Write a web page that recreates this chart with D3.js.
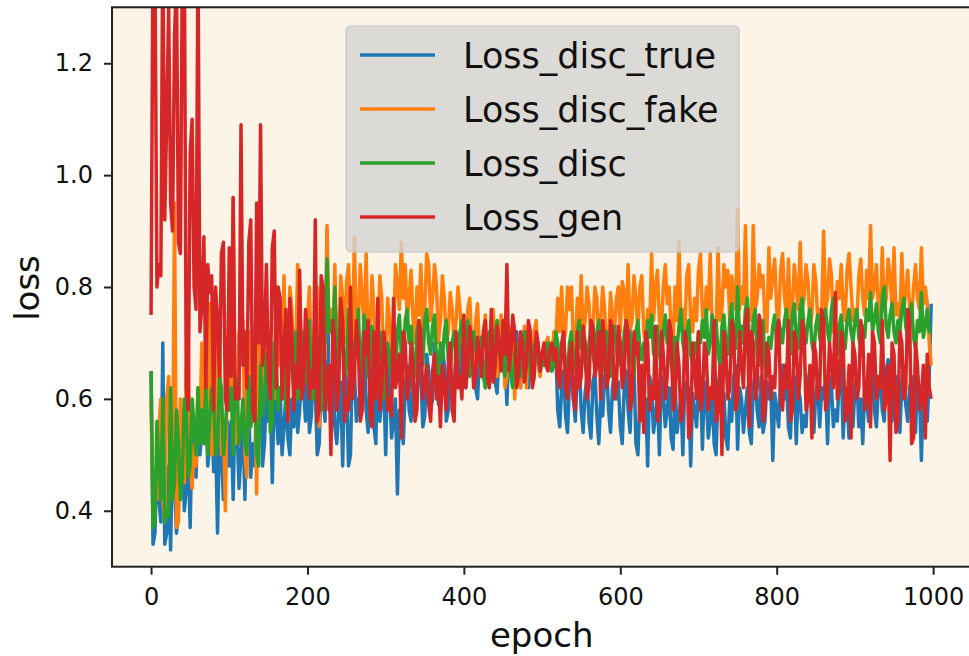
<!DOCTYPE html>
<html>

<head>
    <meta charset="utf-8">
    <style>
        body {
            margin: 0;
            background: #ffffff;
            font-family: 'DejaVu Sans', sans-serif;
        }

        svg {
            display: block;
        }

        .tick text {
            font-size: 24px;
            fill: #111;
        }

        .tick line {
            stroke: #222;
            stroke-width: 2;
        }

        .domain {
            display: none;
        }
    </style>
</head>

<body>
    <svg width="969" height="656"></svg>
</body>

<script src="https://d3js.org/d3.v7.min.js"></script>

<script>
    // losses every 2.5 epochs (0 ... 997.5)
    let lossDiscTrue = [
        0.65, 0.34, 0.36, 0.50, 0.42, 0.38, 0.70, 0.34, 0.36, 0.48, 0.33, 0.52, 0.45, 0.36, 0.40, 0.58, 0.52, 0.40, 0.44, 0.50,
        0.37, 0.56, 0.50, 0.46, 0.58, 0.50, 0.55, 0.64, 0.60, 0.48, 0.52, 0.58, 0.47, 0.54, 0.36, 0.56, 0.50, 0.42, 0.46, 0.56,
        0.48, 0.56, 0.42, 0.60, 0.55, 0.44, 0.50, 0.56, 0.42, 0.62, 0.58, 0.46, 0.52, 0.48, 0.60, 0.54, 0.88, 0.48, 0.52, 0.62,
        0.56, 0.60, 0.45, 0.62, 0.58, 0.52, 0.62, 0.50, 0.55, 0.61, 0.53, 0.50, 0.60, 0.55, 0.64, 0.54, 0.58, 0.66, 0.62, 0.56,
        0.66, 0.54, 0.57, 0.66, 0.62, 0.50, 0.52, 0.64, 0.60, 0.56, 0.90, 0.58, 0.62, 0.66, 0.55, 0.52, 0.58, 0.63, 0.48, 0.66,
        0.62, 0.48, 0.50, 0.68, 0.65, 0.56, 0.60, 0.57, 0.68, 0.70, 0.58, 0.54, 0.63, 0.66, 0.55, 0.52, 0.72, 0.56, 0.60, 0.64,
        0.50, 0.66, 0.62, 0.53, 0.56, 0.60, 0.43, 0.58, 0.55, 0.52, 0.62, 0.66, 0.58, 0.56, 0.66, 0.57, 0.60, 0.68, 0.64, 0.55,
        0.57, 0.68, 0.65, 0.58, 0.60, 0.70, 0.68, 0.59, 0.62, 0.69, 0.66, 0.56, 0.58, 0.66, 0.63, 0.60, 0.68, 0.64, 0.72, 0.62,
        0.64, 0.62, 0.70, 0.72, 0.66, 0.69, 0.62, 0.60, 0.68, 0.71, 0.65, 0.62, 0.70, 0.64, 0.66, 0.70, 0.63, 0.61, 0.69, 0.71,
        0.66, 0.68, 0.59, 0.70, 0.68, 0.64, 0.70, 0.72, 0.65, 0.62, 0.68, 0.70, 0.64, 0.62, 0.70, 0.64, 0.66, 0.70, 0.68, 0.65,
        0.67, 0.66, 0.69, 0.70, 0.66, 0.65, 0.68, 0.69, 0.58, 0.55, 0.62, 0.65, 0.57, 0.54, 0.63, 0.66, 0.60, 0.56, 0.65, 0.67,
        0.58, 0.54, 0.61, 0.64, 0.56, 0.53, 0.63, 0.65, 0.57, 0.52, 0.60, 0.57, 0.64, 0.66, 0.58, 0.54, 0.62, 0.65, 0.60, 0.63,
        0.55, 0.52, 0.62, 0.65, 0.58, 0.54, 0.64, 0.66, 0.52, 0.50, 0.60, 0.63, 0.56, 0.60, 0.48, 0.64, 0.62, 0.54, 0.57, 0.61,
        0.50, 0.64, 0.61, 0.55, 0.58, 0.62, 0.53, 0.51, 0.63, 0.54, 0.57, 0.60, 0.50, 0.63, 0.60, 0.62, 0.48, 0.61, 0.58, 0.55,
        0.62, 0.64, 0.51, 0.63, 0.60, 0.53, 0.56, 0.62, 0.52, 0.50, 0.62, 0.65, 0.57, 0.61, 0.53, 0.51, 0.60, 0.56, 0.64, 0.66,
        0.51, 0.62, 0.60, 0.54, 0.58, 0.62, 0.54, 0.52, 0.62, 0.65, 0.58, 0.55, 0.64, 0.54, 0.56, 0.63, 0.60, 0.62, 0.49, 0.61,
        0.58, 0.55, 0.64, 0.66, 0.60, 0.63, 0.55, 0.53, 0.62, 0.64, 0.52, 0.62, 0.60, 0.54, 0.57, 0.55, 0.63, 0.65, 0.58, 0.54,
        0.61, 0.63, 0.55, 0.62, 0.60, 0.63, 0.52, 0.64, 0.62, 0.55, 0.58, 0.56, 0.64, 0.66, 0.53, 0.62, 0.60, 0.53, 0.57, 0.55,
        0.62, 0.64, 0.55, 0.60, 0.52, 0.62, 0.60, 0.56, 0.64, 0.66, 0.58, 0.55, 0.62, 0.64, 0.58, 0.56, 0.65, 0.67, 0.60, 0.56,
        0.62, 0.64, 0.56, 0.54, 0.63, 0.66, 0.59, 0.56, 0.62, 0.64, 0.57, 0.54, 0.64, 0.62, 0.49, 0.62, 0.60, 0.56, 0.64, 0.77
    ]

    let lossDiscFake = [
        0.60, 0.40, 0.47, 0.42, 0.55, 0.60, 0.42, 0.38, 0.60, 0.64, 0.45, 0.42, 0.95, 0.37, 0.38, 0.60, 0.55, 0.45, 0.65, 0.70,
        0.48, 0.44, 0.52, 0.48, 0.62, 0.55, 0.70, 0.52, 0.58, 0.55, 0.77, 0.50, 0.55, 0.50, 0.72, 0.75, 0.50, 0.56, 0.40, 0.66,
        0.62, 0.58, 0.96, 0.52, 0.55, 0.72, 0.68, 0.74, 0.50, 0.46, 0.72, 0.56, 0.60, 0.64, 0.43, 0.78, 0.75, 0.62, 0.66, 0.74,
        0.70, 0.58, 0.62, 0.60, 0.80, 0.66, 0.70, 0.66, 0.82, 0.62, 0.65, 0.80, 0.76, 0.64, 0.68, 0.84, 0.80, 0.68, 0.72, 0.66,
        0.74, 0.80, 0.66, 0.64, 0.78, 0.80, 0.55, 0.74, 0.70, 0.67, 0.91, 0.72, 0.76, 0.70, 0.84, 0.68, 0.70, 0.82, 0.78, 0.70,
        0.81, 0.84, 0.72, 0.70, 0.89, 0.70, 0.74, 0.84, 0.78, 0.72, 0.86, 0.70, 0.72, 0.82, 0.76, 0.66, 0.70, 0.82, 0.78, 0.64,
        0.66, 0.78, 0.74, 0.68, 0.70, 0.84, 0.80, 0.76, 0.88, 0.78, 0.84, 0.74, 0.78, 0.83, 0.74, 0.70, 0.80, 0.75, 0.84, 0.72,
        0.76, 0.86, 0.84, 0.74, 0.78, 0.84, 0.80, 0.70, 0.74, 0.82, 0.78, 0.70, 0.72, 0.79, 0.76, 0.70, 0.74, 0.80, 0.76, 0.70,
        0.72, 0.68, 0.76, 0.78, 0.70, 0.66, 0.74, 0.77, 0.68, 0.64, 0.72, 0.75, 0.66, 0.63, 0.74, 0.76, 0.70, 0.64, 0.68, 0.75,
        0.72, 0.62, 0.64, 0.73, 0.70, 0.72, 0.60, 0.70, 0.66, 0.62, 0.70, 0.73, 0.62, 0.71, 0.68, 0.64, 0.72, 0.74, 0.66, 0.64,
        0.68, 0.67, 0.70, 0.71, 0.67, 0.66, 0.72, 0.70, 0.78, 0.72, 0.80, 0.70, 0.72, 0.80, 0.76, 0.80, 0.70, 0.68, 0.78, 0.72,
        0.82, 0.71, 0.74, 0.80, 0.77, 0.70, 0.72, 0.80, 0.78, 0.70, 0.74, 0.80, 0.76, 0.68, 0.70, 0.79, 0.75, 0.71, 0.78, 0.80,
        0.72, 0.81, 0.79, 0.72, 0.84, 0.72, 0.74, 0.82, 0.78, 0.72, 0.80, 0.82, 0.72, 0.70, 0.76, 0.72, 0.86, 0.74, 0.80, 0.83,
        0.74, 0.72, 0.80, 0.84, 0.77, 0.80, 0.72, 0.70, 0.80, 0.74, 0.88, 0.74, 0.76, 0.72, 0.82, 0.84, 0.74, 0.72, 0.78, 0.74,
        0.83, 0.86, 0.75, 0.73, 0.80, 0.76, 0.86, 0.72, 0.74, 0.72, 0.87, 0.74, 0.76, 0.84, 0.80, 0.83, 0.74, 0.82, 0.78, 0.76,
        0.94, 0.76, 0.80, 0.77, 0.91, 0.74, 0.76, 0.74, 0.91, 0.76, 0.78, 0.84, 0.80, 0.82, 0.74, 0.72, 0.87, 0.78, 0.82, 0.85,
        0.76, 0.74, 0.83, 0.86, 0.78, 0.75, 0.85, 0.74, 0.76, 0.84, 0.80, 0.76, 0.88, 0.76, 0.78, 0.84, 0.81, 0.73, 0.75, 0.84,
        0.81, 0.74, 0.76, 0.75, 0.90, 0.76, 0.78, 0.85, 0.82, 0.72, 0.74, 0.81, 0.78, 0.84, 0.76, 0.74, 0.83, 0.86, 0.80, 0.74,
        0.76, 0.74, 0.82, 0.85, 0.78, 0.75, 0.83, 0.78, 0.91, 0.78, 0.80, 0.84, 0.76, 0.74, 0.87, 0.76, 0.78, 0.85, 0.82, 0.76,
        0.87, 0.75, 0.77, 0.74, 0.86, 0.76, 0.79, 0.83, 0.76, 0.74, 0.80, 0.84, 0.78, 0.76, 0.87, 0.77, 0.80, 0.77, 0.70, 0.66
    ]

    let lossDisc = [
        0.65, 0.37, 0.38, 0.56, 0.48, 0.42, 0.60, 0.38, 0.40, 0.39, 0.62, 0.42, 0.45, 0.58, 0.52, 0.42, 0.46, 0.60, 0.58, 0.46,
        0.48, 0.60, 0.55, 0.50, 0.62, 0.52, 0.58, 0.52, 0.63, 0.50, 0.56, 0.62, 0.60, 0.50, 0.52, 0.64, 0.62, 0.50, 0.54, 0.62,
        0.58, 0.62, 0.50, 0.64, 0.62, 0.52, 0.55, 0.60, 0.52, 0.50, 0.64, 0.55, 0.58, 0.62, 0.50, 0.48, 0.66, 0.57, 0.60, 0.68,
        0.64, 0.54, 0.56, 0.70, 0.67, 0.58, 0.62, 0.60, 0.70, 0.58, 0.60, 0.70, 0.66, 0.62, 0.72, 0.60, 0.62, 0.72, 0.68, 0.63,
        0.70, 0.74, 0.62, 0.60, 0.68, 0.71, 0.60, 0.58, 0.72, 0.70, 0.85, 0.72, 0.74, 0.71, 0.80, 0.66, 0.68, 0.75, 0.72, 0.64,
        0.66, 0.76, 0.74, 0.66, 0.70, 0.68, 0.76, 0.65, 0.68, 0.75, 0.72, 0.64, 0.66, 0.73, 0.70, 0.62, 0.64, 0.72, 0.70, 0.60,
        0.62, 0.70, 0.68, 0.64, 0.66, 0.64, 0.72, 0.75, 0.68, 0.66, 0.74, 0.76, 0.70, 0.73, 0.66, 0.64, 0.72, 0.74, 0.68, 0.66,
        0.74, 0.76, 0.70, 0.68, 0.73, 0.75, 0.66, 0.64, 0.70, 0.67, 0.72, 0.74, 0.67, 0.65, 0.70, 0.72, 0.68, 0.66, 0.72, 0.74,
        0.70, 0.68, 0.74, 0.64, 0.66, 0.72, 0.70, 0.66, 0.68, 0.71, 0.64, 0.62, 0.70, 0.72, 0.66, 0.64, 0.72, 0.74, 0.68, 0.70,
        0.66, 0.64, 0.70, 0.71, 0.64, 0.62, 0.68, 0.70, 0.66, 0.64, 0.70, 0.72, 0.67, 0.69, 0.65, 0.63, 0.69, 0.71, 0.67, 0.65,
        0.68, 0.66, 0.67, 0.70, 0.69, 0.65, 0.66, 0.72, 0.70, 0.66, 0.68, 0.71, 0.66, 0.64, 0.70, 0.72, 0.67, 0.65, 0.72, 0.74,
        0.69, 0.71, 0.66, 0.64, 0.70, 0.73, 0.68, 0.66, 0.72, 0.74, 0.67, 0.65, 0.70, 0.72, 0.66, 0.64, 0.71, 0.73, 0.69, 0.66,
        0.68, 0.66, 0.72, 0.74, 0.70, 0.72, 0.66, 0.64, 0.72, 0.74, 0.69, 0.67, 0.70, 0.68, 0.74, 0.71, 0.75, 0.68, 0.70, 0.73,
        0.68, 0.66, 0.72, 0.75, 0.70, 0.72, 0.66, 0.64, 0.71, 0.69, 0.73, 0.76, 0.70, 0.68, 0.72, 0.74, 0.68, 0.66, 0.70, 0.68,
        0.72, 0.70, 0.74, 0.71, 0.76, 0.68, 0.70, 0.75, 0.72, 0.74, 0.68, 0.66, 0.73, 0.75, 0.70, 0.68, 0.74, 0.77, 0.71, 0.69,
        0.80, 0.71, 0.73, 0.70, 0.76, 0.78, 0.70, 0.68, 0.74, 0.76, 0.68, 0.66, 0.72, 0.74, 0.66, 0.64, 0.71, 0.69, 0.73, 0.75,
        0.70, 0.74, 0.72, 0.70, 0.74, 0.76, 0.70, 0.68, 0.75, 0.77, 0.71, 0.69, 0.76, 0.78, 0.72, 0.70, 0.74, 0.76, 0.70, 0.68,
        0.73, 0.75, 0.71, 0.69, 0.74, 0.76, 0.72, 0.70, 0.76, 0.78, 0.70, 0.68, 0.73, 0.75, 0.71, 0.69, 0.74, 0.76, 0.72, 0.70,
        0.74, 0.76, 0.71, 0.69, 0.73, 0.71, 0.76, 0.74, 0.79, 0.72, 0.74, 0.77, 0.72, 0.70, 0.78, 0.80, 0.73, 0.71, 0.75, 0.77,
        0.72, 0.70, 0.74, 0.72, 0.76, 0.78, 0.73, 0.71, 0.75, 0.77, 0.71, 0.69, 0.74, 0.72, 0.79, 0.71, 0.73, 0.76, 0.72, 0.72
    ]

    let lossGen = [
        0.75, 1.42, 1.38, 0.80, 0.84, 0.82, 1.42, 0.92, 1.10, 1.30, 0.95, 0.90, 1.25, 1.35, 0.88, 0.86, 1.38, 1.42, 0.62, 0.58,
        1.04, 1.10, 0.80, 0.76, 1.40, 0.72, 0.77, 0.89, 0.62, 0.84, 0.79, 0.82, 0.58, 0.80, 0.74, 0.64, 0.86, 0.88, 0.60, 0.58,
        0.87, 0.64, 0.96, 0.60, 0.62, 0.60, 1.09, 0.66, 0.72, 0.62, 0.88, 0.92, 0.58, 0.56, 0.95, 0.70, 1.09, 0.66, 0.70, 0.84,
        0.64, 0.60, 0.87, 0.90, 0.62, 0.80, 0.78, 0.60, 0.70, 0.76, 0.56, 0.78, 0.72, 0.58, 0.66, 0.62, 0.83, 0.60, 0.62, 0.76,
        0.72, 0.60, 0.65, 0.62, 0.92, 0.56, 0.58, 0.82, 0.80, 0.58, 0.62, 0.66, 0.50, 0.74, 0.70, 0.58, 0.62, 0.78, 0.74, 0.56,
        0.60, 0.58, 0.80, 0.60, 0.64, 0.74, 0.70, 0.56, 0.58, 0.72, 0.68, 0.74, 0.57, 0.55, 0.72, 0.60, 0.78, 0.58, 0.62, 0.72,
        0.68, 0.58, 0.60, 0.57, 0.78, 0.62, 0.64, 0.68, 0.53, 0.72, 0.70, 0.60, 0.62, 0.70, 0.66, 0.56, 0.58, 0.74, 0.72, 0.60,
        0.62, 0.66, 0.59, 0.56, 0.65, 0.68, 0.60, 0.64, 0.55, 0.66, 0.62, 0.58, 0.66, 0.70, 0.58, 0.56, 0.72, 0.62, 0.64, 0.60,
        0.75, 0.62, 0.66, 0.73, 0.70, 0.62, 0.64, 0.71, 0.68, 0.64, 0.72, 0.74, 0.64, 0.62, 0.76, 0.63, 0.66, 0.73, 0.70, 0.65,
        0.74, 0.68, 0.84, 0.65, 0.68, 0.75, 0.72, 0.62, 0.64, 0.72, 0.70, 0.63, 0.66, 0.74, 0.72, 0.62, 0.64, 0.72, 0.70, 0.65,
        0.68, 0.70, 0.66, 0.65, 0.69, 0.70, 0.67, 0.69, 0.64, 0.62, 0.70, 0.72, 0.62, 0.60, 0.68, 0.70, 0.60, 0.58, 0.72, 0.62,
        0.64, 0.73, 0.70, 0.60, 0.62, 0.74, 0.73, 0.64, 0.66, 0.72, 0.60, 0.74, 0.70, 0.62, 0.64, 0.74, 0.72, 0.60, 0.62, 0.73,
        0.70, 0.62, 0.64, 0.74, 0.72, 0.58, 0.60, 0.72, 0.68, 0.70, 0.56, 0.66, 0.54, 0.72, 0.70, 0.58, 0.62, 0.60, 0.73, 0.56,
        0.58, 0.72, 0.68, 0.60, 0.64, 0.74, 0.72, 0.58, 0.60, 0.70, 0.66, 0.56, 0.58, 0.72, 0.70, 0.53, 0.55, 0.70, 0.66, 0.60,
        0.72, 0.58, 0.60, 0.70, 0.68, 0.58, 0.62, 0.60, 0.74, 0.56, 0.58, 0.66, 0.50, 0.72, 0.68, 0.60, 0.62, 0.74, 0.72, 0.58,
        0.60, 0.72, 0.66, 0.62, 0.74, 0.76, 0.55, 0.72, 0.70, 0.60, 0.62, 0.75, 0.73, 0.56, 0.58, 0.70, 0.68, 0.60, 0.64, 0.62,
        0.72, 0.74, 0.60, 0.58, 0.66, 0.62, 0.74, 0.56, 0.58, 0.72, 0.70, 0.60, 0.64, 0.74, 0.72, 0.58, 0.60, 0.66, 0.53, 0.70,
        0.68, 0.60, 0.62, 0.76, 0.74, 0.58, 0.60, 0.70, 0.66, 0.62, 0.79, 0.60, 0.62, 0.72, 0.70, 0.56, 0.58, 0.66, 0.53, 0.70,
        0.68, 0.60, 0.62, 0.74, 0.72, 0.58, 0.60, 0.68, 0.55, 0.72, 0.70, 0.60, 0.64, 0.62, 0.74, 0.58, 0.60, 0.66, 0.49, 0.70,
        0.68, 0.54, 0.56, 0.72, 0.70, 0.60, 0.62, 0.76, 0.74, 0.52, 0.53, 0.70, 0.66, 0.58, 0.60, 0.66, 0.53, 0.68, 0.62, 0.60
    ]

    let epochs = d3.range(0, 1000, 2.5)
    let seriesNames = ["Loss_disc_true", "Loss_disc_fake", "Loss_disc", "Loss_gen"]
    let seriesValues = [lossDiscTrue, lossDiscFake, lossDisc, lossGen]
    let colors = ["#1f77b4", "#ff7f0e", "#2ca02c", "#d62728"]
    let xTickValues = [0, 200, 400, 600, 800, 1000]
    let yTickValues = [0.4, 0.6, 0.8, 1.0, 1.2]

    let svg = d3.select("svg")

    // axes box (the right spine falls just past the picture edge)
    let margin = { top: 7.3, left: 112, right: 971.4, bottom: 566.7 }

    let x = d3.scaleLinear()
        .domain([-49.95, 1048.95])
        .range([margin.left, margin.right])

    let y = d3.scaleLinear()
        .domain([0.3, 1.3])
        .range([margin.bottom, margin.top])

    // axes background
    svg.append("rect")
        .attr("x", margin.left)
        .attr("y", margin.top)
        .attr("width", margin.right - margin.left)
        .attr("height", margin.bottom - margin.top)
        .attr("fill", "#fcf4e6")

    svg.append("clipPath")
        .attr("id", "plot-clip")
        .append("rect")
        .attr("x", margin.left)
        .attr("y", margin.top)
        .attr("width", margin.right - margin.left)
        .attr("height", margin.bottom - margin.top)

    let line = d3.line()
        .x(function (d, i) { return x(epochs[i]) })
        .y(function (d) { return y(d) })

    svg.append("g")
        .attr("clip-path", "url(#plot-clip)")
        .selectAll(".series")
        .data(seriesValues)
        .join("path")
        .attr("class", "series")
        .attr("d", function (d) { return line(d) })
        .attr("fill", "none")
        .attr("stroke", function (d, i) { return colors[i] })
        .attr("stroke-width", 3.5)
        .attr("stroke-linejoin", "round")

    // axes
    let xAxisSettings = d3.axisBottom(x)
        .tickValues(xTickValues)
        .tickSize(8)
        .tickPadding(13)
        .tickFormat(d3.format("d"))

    let yAxisSettings = d3.axisLeft(y)
        .tickValues(yTickValues)
        .tickSize(8)
        .tickPadding(11)
        .tickFormat(d3.format(".1f"))

    svg.append("g")
        .attr("class", "x axis")
        .attr("transform", `translate(0,${margin.bottom})`)
        .call(xAxisSettings)
        .selectAll("text")
        .attr("font-family", "DejaVu Sans")

    svg.append("g")
        .attr("class", "y axis")
        .attr("transform", `translate(${margin.left},0)`)
        .call(yAxisSettings)
        .selectAll("text")
        .attr("font-family", "DejaVu Sans")

    // spines
    svg.append("rect")
        .attr("x", margin.left)
        .attr("y", margin.top)
        .attr("width", margin.right - margin.left)
        .attr("height", margin.bottom - margin.top)
        .attr("fill", "none")
        .attr("stroke", "#222")
        .attr("stroke-width", 2)

    // axis labels
    svg.append("text")
        .attr("x", (margin.left + margin.right) / 2)
        .attr("y", 647)
        .attr("text-anchor", "middle")
        .style("font-size", "34px")
        .style("fill", "#111")
        .text("epoch")

    svg.append("text")
        .attr("transform", "translate(38.5,288) rotate(-90)")
        .attr("text-anchor", "middle")
        .style("font-size", "34px")
        .style("fill", "#111")
        .text("loss")

    // legend
    let legend = svg.append("g")

    legend.append("rect")
        .attr("x", 346)
        .attr("y", 26)
        .attr("width", 393)
        .attr("height", 226)
        .attr("rx", 5)
        .attr("fill", "rgba(211,211,211,0.8)")
        .attr("stroke", "rgba(200,200,200,0.8)")
        .attr("stroke-width", 1.5)

    let rows = legend.selectAll(".legend-row")
        .data(seriesNames)
        .join("g")
        .attr("class", "legend-row")
        .attr("transform", function (d, i) { return `translate(0,${55 + i * 54})` })

    rows.append("line")
        .attr("x1", 360)
        .attr("x2", 435)
        .attr("stroke", function (d, i) { return colors[i] })
        .attr("stroke-width", 3.5)

    rows.append("text")
        .attr("x", 463)
        .attr("y", 13)
        .style("font-size", "35px")
        .style("fill", "#111")
        .text(function (d) { return d })
</script>

</html>
